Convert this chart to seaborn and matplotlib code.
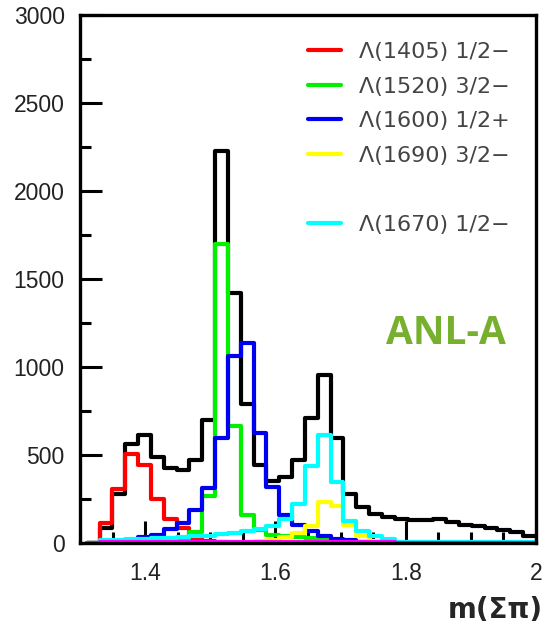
import numpy as np
import pandas as pd
import matplotlib
matplotlib.use("Agg")
import matplotlib.pyplot as plt
import seaborn as sns
from matplotlib.lines import Line2D
from matplotlib.ticker import MultipleLocator, FuncFormatter

# ---- data ----
bin_edges = np.linspace(1.33, 2.0, 35)          # 34 bins in m(Σπ)
total = [88, 280, 565, 612, 490, 425, 416, 469, 698, 2230, 1420, 790, 441, 350,
         374, 469, 710, 956, 594, 279, 202, 164, 145, 136, 128, 133, 136, 120,
         105, 95, 85, 72, 60, 42]
lam1405 = [115, 307, 508, 441, 250, 136, 88, 30, 12, 5, 2] + [0] * 23
lam1520 = [0, 0, 0, 0, 0, 5, 15, 65, 265, 1700, 665, 160, 75, 45, 40, 35, 30,
           20, 15, 8, 3] + [0] * 13
lam1600 = [0, 5, 15, 32, 45, 78, 116, 188, 310, 594, 1060, 1135, 625, 318, 160,
           100, 69, 40, 25, 15, 8, 4] + [0] * 12
lam1690 = [0] * 12 + [10, 18, 32, 59, 95, 235, 212, 100, 40, 12, 5] + [0] * 11
lam1670 = [15, 18, 20, 23, 26, 30, 34, 38, 42, 50, 58, 68, 80, 94, 136, 221,
           440, 612, 345, 126, 69, 40, 21, 8, 5, 4, 4, 3, 3, 3, 3, 3, 3, 3]
other = [3] * 23 + [0] * 11

legend_labels = ["Λ(1405) 1/2−", "Λ(1520) 3/2−", "Λ(1600) 1/2+",
                 "Λ(1690) 3/2−", "", "Λ(1670) 1/2−"]

# ---- style ----
sns.set_style("ticks")
plt.rcParams['font.family'] = ['Liberation Sans', 'DejaVu Sans']

fig = plt.figure(figsize=(5.46, 6.25), dpi=100)
ax = fig.add_axes([80 / 546, 1 - 543 / 625, 456 / 546, 528 / 625])

# one empty bin in front of threshold so every step rises from zero
width = bin_edges[1] - bin_edges[0]
edges_list = [float(bin_edges[0] - width)] + [float(e) for e in bin_edges]
centers = (np.array(edges_list[:-1]) + np.array(edges_list[1:])) / 2

series = [(total, "black"), (lam1405, "#ff0000"), (lam1520, "#00f000"),
          (lam1600, "#0000f0"), (lam1690, "#ffff00"), (lam1670, "#00ffff"),
          (other, "#ff00ff")]
for vals, col in series:
    df = pd.DataFrame({"m": centers,
                       "w": np.asarray([0] + list(vals), dtype=float)})
    sns.histplot(data=df, x="m", weights="w", bins=edges_list, element="step",
                 fill=False, color=col, linewidth=3, ax=ax)

ax.set_xlim(1.3, 2.0)
ax.set_ylim(0, 3000)
ax.set_ylabel("")
ax.set_xlabel("m(Σπ)", loc="right", fontsize=20, fontweight="bold",
              family="DejaVu Sans")
ax.xaxis.set_label_coords(1.0154, -0.1)

ax.xaxis.set_major_locator(MultipleLocator(0.2))
ax.xaxis.set_minor_locator(MultipleLocator(0.05))
ax.yaxis.set_major_locator(MultipleLocator(500))
ax.yaxis.set_minor_locator(MultipleLocator(250))
ax.xaxis.set_major_formatter(FuncFormatter(lambda v, p: f"{v:g}"))

ax.tick_params(which="both", direction="in", top=False, right=False,
               width=2.2, color="black", labelsize=16.5, labelcolor="#222222")
ax.tick_params(axis="y", pad=11)
ax.tick_params(axis="x", pad=14)
ax.tick_params(which="major", length=16)
ax.tick_params(which="minor", length=8)
for sp in ax.spines.values():
    sp.set_linewidth(2.4)
    sp.set_color("black")
    sp.set_visible(True)

ax.text(0.8026, 0.377, "ANL-A", transform=ax.transAxes, ha="center",
        va="baseline", fontsize=28, fontweight="bold", color="#77b02f",
        family="Open Sans")

handles = [Line2D([], [], color=c, lw=3) for c in
           ["#ff0000", "#00f000", "#0000f0", "#ffff00"]]
handles.append(Line2D([], [], color="none", lw=0))
handles.append(Line2D([], [], color="#00ffff", lw=3))
ax.legend(handles, legend_labels, loc="upper left",
          bbox_to_anchor=(0.5, 0.949), frameon=False,
          prop={"family": "DejaVu Sans", "size": 16},
          labelcolor="#444444", handlelength=1.5, handletextpad=0.8,
          labelspacing=0.66, borderpad=0, borderaxespad=0)

fig.savefig("out.png", dpi=100)
